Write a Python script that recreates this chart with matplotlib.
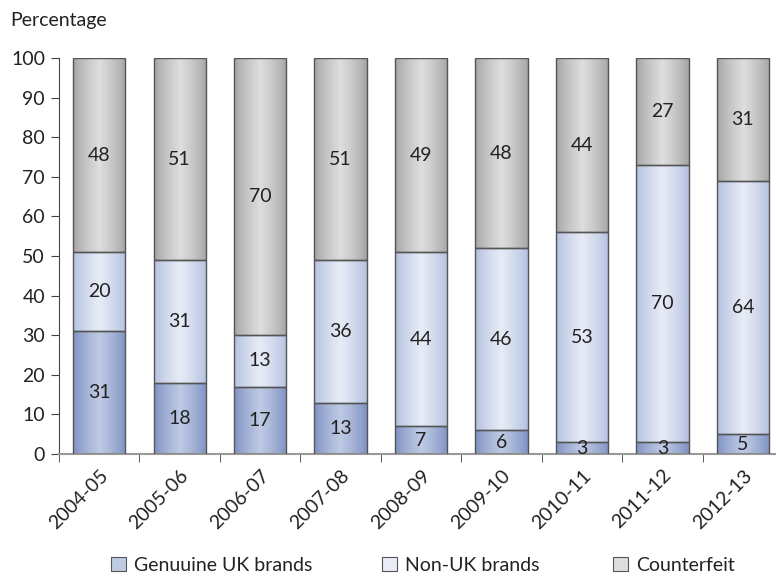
import numpy as np
import matplotlib
matplotlib.use("Agg")
import matplotlib.pyplot as plt
from matplotlib.patches import Rectangle
from matplotlib.colors import to_rgb

plt.rcParams['font.family'] = ['Lato', 'DejaVu Sans']

# --- data ---
years = ['2004-05', '2005-06', '2006-07', '2007-08', '2008-09',
         '2009-10', '2010-11', '2011-12', '2012-13']
genuine_uk = [31, 18, 17, 13, 7, 6, 3, 3, 5]
non_uk = [20, 31, 13, 36, 44, 46, 53, 70, 64]
# drawn heights (first bar reaches 100 in the chart, its label says 48)
counterfeit = [49, 51, 70, 51, 49, 48, 44, 27, 31]
counterfeit_labels = [48, 51, 70, 51, 49, 48, 44, 27, 31]

series_names = ['Genuuine UK brands', 'Non-UK brands', 'Counterfeit']
# (edge colour, centre colour) for the horizontal gradient
series_cols = [('#7d91c2', '#bfcae4'),
               ('#b2bfdf', '#e8ecf6'),
               ('#a4a4a4', '#dedede')]
FS = 14


def gradient(edge, centre, n=64):
    e = np.array(to_rgb(edge))
    c = np.array(to_rgb(centre))
    t = np.linspace(0, 1, n)
    w = (1 - np.abs(2 * t - 1)) ** 0.8  # 0 at sides, 1 in middle
    return (e[None, :] * (1 - w[:, None]) + c[None, :] * w[:, None])[None, :, :]


fig = plt.figure(figsize=(7.76, 5.78), dpi=100)
ax = fig.add_axes([0.076, 0.2145, 0.928, 0.685])

width = 0.65
x = np.arange(len(years))
bottoms = np.zeros(len(years))
series = [(genuine_uk, genuine_uk), (non_uk, non_uk),
          (counterfeit, counterfeit_labels)]
for (vals, labs), (edge, centre) in zip(series, series_cols):
    img = gradient(edge, centre)
    for xi, b, v, lab in zip(x, bottoms, vals, labs):
        x0 = xi - width / 2
        rect = Rectangle((x0, b), width, v, facecolor='none',
                         edgecolor='#555555', linewidth=1.0, zorder=3)
        ax.add_patch(rect)
        im = ax.imshow(img, extent=(x0, x0 + width, b, b + v),
                       aspect='auto', zorder=2, interpolation='bilinear')
        im.set_clip_path(rect)
        ax.text(xi, b + v / 2, str(lab), ha='center', va='center',
                fontsize=FS, color='#222222', zorder=4)
    bottoms += np.array(vals)

ax.set_xlim(-0.5, 8.45)
ax.set_ylim(0, 100)
ax.set_yticks(range(0, 101, 10))
ax.tick_params(axis='y', direction='out', length=6, color='#444444',
               labelsize=FS, labelcolor='#222222', pad=4)
ax.set_xticks(x)
ax.set_xticklabels(years, rotation=45, ha='right', rotation_mode='anchor',
                   fontsize=FS, color='#222222')
ax.tick_params(axis='x', which='major', length=0, pad=9)
ax.set_xticks(np.arange(-0.5, 8.5, 1), minor=True)
ax.tick_params(axis='x', which='minor', length=6, color='#444444')

for s in ['top', 'right']:
    ax.spines[s].set_visible(False)
ax.spines['left'].set_color('#444444')
ax.spines['bottom'].set_color('#999999')
ax.spines['bottom'].set_linewidth(1.5)

fig.text(0.013, 0.965, 'Percentage', fontsize=FS, color='#222222',
         ha='left', va='center')

# legend, one entry per position
leg_x = [0.131, 0.48, 0.778]
for name, (edge, centre), lx in zip(series_names, series_cols, leg_x):
    h = Rectangle((0, 0), 1, 1, facecolor=centre, edgecolor='#555555',
                  linewidth=0.8)
    fig.legend([h], [name], loc='center left', bbox_to_anchor=(lx, 0.022),
               frameon=False, fontsize=FS, handlelength=0.75,
               handleheight=0.75, handletextpad=0.4, borderpad=0,
               labelcolor='#222222')

fig.savefig('out.png', dpi=100)
